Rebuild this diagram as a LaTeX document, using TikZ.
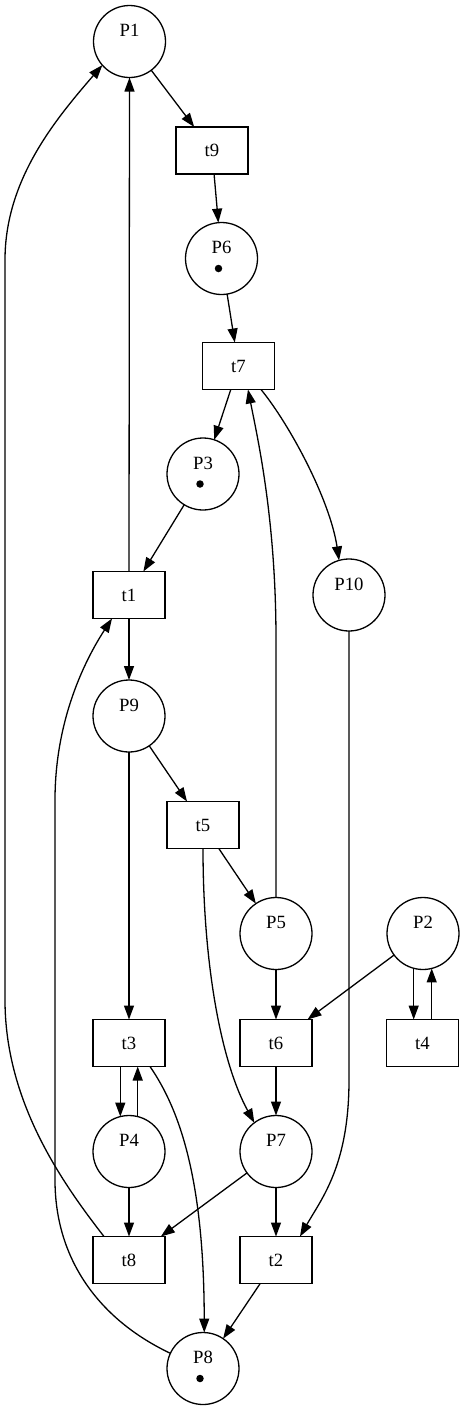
\documentclass[tikz,border=0pt]{standalone}
\usepackage{fontspec}
\setmainfont{Liberation Serif}
\usetikzlibrary{arrows.meta,calc}
\begin{document}
\begin{tikzpicture}[x=1pt,y=-1pt,line width=1.3pt,
  >={Triangle[length=14pt,width=10pt]},
  place/.style={circle,draw,minimum size=72pt,inner sep=0pt,outer sep=0pt},
  trans/.style={rectangle,draw,minimum width=72pt,minimum height=47pt,inner sep=0pt,outer sep=0pt,font=\fontsize{18.7}{22}\selectfont},
  txt/.style={inner sep=0pt,font=\fontsize{18.7}{22}\selectfont},
  token/.style={circle,fill,minimum size=7.5pt,inner sep=0pt},
  arc/.style={->}]
\useasboundingbox (0,0) rectangle (464,1409);
% places
\node[place] (P1) at (129.5,41.5) {};
\node[place] (P6) at (221.5,258.5) {};
\node[place] (P3) at (203,474) {};
\node[place] (P10) at (349,595) {};
\node[place] (P9) at (129,716) {};
\node[place] (P5) at (276,933.5) {};
\node[place] (P2) at (423,933.5) {};
\node[place] (P4) at (129,1151.5) {};
\node[place] (P7) at (276,1151.5) {};
\node[place] (P8) at (203,1368.5) {};
\foreach \p in {P1,P6,P3,P10,P9,P5,P2,P4,P7,P8}
  \node[txt] (\p l) at ($(\p)+(0,-11)$) {\p};
\foreach \p in {P6,P3,P8}
  \node[token] (\p k) at ($(\p)+(-3,10)$) {};
% transitions
\node[trans] (t9) at (212,150.5) {t9};
\node[trans] (t7) at (238.5,366) {t7};
\node[trans] (t1) at (129,595) {t1};
\node[trans] (t5) at (203,825) {t5};
\node[trans] (t3) at (129,1043) {t3};
\node[trans] (t6) at (276,1043) {t6};
\node[trans] (t4) at (422.5,1043) {t4};
\node[trans] (t8) at (129,1260) {t8};
\node[trans] (t2) at (276,1260) {t2};
% helper coordinates
\coordinate (a1) at (276,640);
\coordinate (a2) at (349,1080);
\coordinate (a3) at (5,1000);
\coordinate (a4) at (5,260);
\coordinate (a5) at (55,1180);
\coordinate (a6) at (55,800);
% straight arcs
\draw[arc] (P1) -- (t9);
\draw[arc] (t9) -- (P6);
\draw[arc] (P6) -- (t7);
\draw[arc] (t7) -- (P3);
\draw[arc] (P3) -- (t1);
\draw[arc] (t1.north) -- (P1.south);
\draw[arc] (t1.south) -- (P9.north);
\draw[arc] (P9) -- (t5);
\draw[arc] (P9.south) -- (t3.north);
\draw[arc] (t5) -- (P5);
\draw[arc] (P5.south) -- (t6.north);
\draw[arc] (P2) -- (t6);
\draw[arc] (P2.255) -- (P2.255 |- t4.north);
\draw[arc] (t4.north -| P2.284) -- (P2.284);
\draw[arc] (t3.south -| P4.104) -- (P4.104);
\draw[arc] (P4.76) -- (P4.76 |- t3.south);
\draw[arc] (t6.south) -- (P7.north);
\draw[arc] (P4.south) -- (t8.north);
\draw[arc] (P7) -- (t8);
\draw[arc] (P7.south) -- (t2.north);
\draw[arc] (t2) -- (P8);
% curved arcs
\draw[arc] ($(t7.south)+(22.5,0)$) .. controls (290,425) and (330,500) .. (P10.106);
\draw[arc] (t5.south) .. controls (203,960) and (220,1060) .. (P7.127);
\draw[arc] (P5.north) -- (a1) .. controls (276,520) and (258,440) .. ($(t7.south)+(9.5,0)$);
\draw[arc] (P10.south) -- (a2) .. controls (349,1165) and (322,1198) .. ($(t2.north)+(24,0)$);
\draw[arc] ($(t3.south)+(21,0)$) .. controls (180,1110) and (204,1180) .. (P8.88);
\draw[arc] ($(t8.north)+(-25,0)$) .. controls (60,1180) and (5,1100) .. (a3) -- (a4) .. controls (5,180) and (55,120) .. (P1.221);
\draw[arc] (P8.155) .. controls (100,1320) and (55,1260) .. (a5) -- (a6) .. controls (55,720) and (85,660) .. ($(t1.south)+(-17,0)$);
\end{tikzpicture}
\end{document}
